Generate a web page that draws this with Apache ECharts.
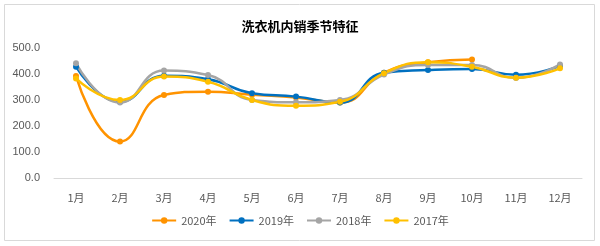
<!DOCTYPE html>
<html>
<head>
<meta charset="utf-8">
<script src="https://cdn.jsdelivr.net/npm/echarts@6/dist/echarts.min.js"></script>
<style>
  html, body { margin: 0; padding: 0; background: #fff; }
  #main { width: 600px; height: 246px; }
</style>
</head>
<body>
<div id="main"></div>
<script>
// 月份
var months = ['1月', '2月', '3月', '4月', '5月', '6月', '7月', '8月', '9月', '10月', '11月', '12月'];
// 各年内销量
var y2020 = [392, 140, 319, 332, 320, 310, 290, 405, 445, 456];
var y2019 = [428, 293, 393, 380, 326, 313, 290, 405, 415, 419, 397, 431];
var y2018 = [441, 290, 413, 396, 300, 291, 300, 398, 435, 435, 385, 437];
var y2017 = [383, 300, 390, 370, 300, 278, 293, 403, 445, 428, 386, 422];

var names = ['2020年', '2019年', '2018年', '2017年'];
var colors = ['#FF9300', '#0070C0', '#A5A5A5', '#FFC000'];
var all = [y2020, y2019, y2018, y2017];

var chart = echarts.init(document.getElementById('main'));

var series = all.map(function (d, i) {
  return {
    name: names[i],
    type: 'line',
    data: d,
    smooth: 0.5,
    symbol: 'circle',
    symbolSize: 6,
    lineStyle: { width: 2.5, color: colors[i] },
    itemStyle: { color: colors[i] }
  };
});

var option = {
  animation: false,
  title: {
    text: '洗衣机内销季节特征',
    left: 'center',
    top: 15,
    textStyle: { fontSize: 13, fontWeight: 'bold', color: '#000', fontFamily: 'Noto Sans CJK SC' }
  },
  graphic: [{
    type: 'rect',
    shape: { x: 4.5, y: 4.5, width: 590, height: 236 },
    style: { fill: 'none', stroke: '#D9D9D9', lineWidth: 1 }
  }],
  legend: {
    data: names,
    bottom: 15,
    left: 'center',
    itemWidth: 24,
    itemHeight: 8,
    itemGap: 12,
    textStyle: { fontSize: 11, color: '#595959', fontFamily: 'Noto Sans CJK SC' }
  },
  grid: { left: 54, right: 18, top: 48, bottom: 68 },
  xAxis: {
    type: 'category',
    data: months,
    boundaryGap: true,
    axisLine: { lineStyle: { color: '#D9D9D9' } },
    axisTick: { show: false },
    axisLabel: { color: '#595959', fontSize: 11, margin: 14, fontFamily: 'Noto Sans CJK SC' }
  },
  yAxis: {
    type: 'value',
    min: 0,
    max: 500,
    interval: 100,
    splitLine: { show: false },
    axisLine: { show: false },
    axisTick: { show: false },
    axisLabel: {
      color: '#595959', fontSize: 11, margin: 14,
      formatter: function (v) { return v.toFixed(1); }
    }
  },
  series: series
};

chart.setOption(option);
</script>
</body>
</html>
